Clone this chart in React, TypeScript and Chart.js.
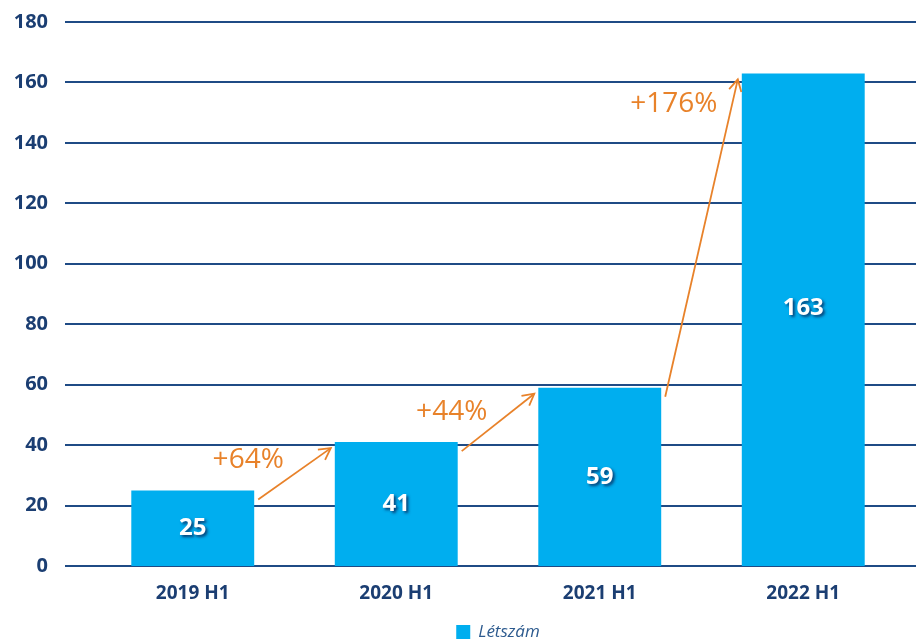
import React, { useEffect, useRef } from "react";
import { Chart, registerables } from "chart.js";

Chart.register(...registerables);

const categories = ["2019 H1", "2020 H1", "2021 H1", "2022 H1"];
const values = [25, 41, 59, 163];
const growthLabels = ["+64%", "+44%", "+176%"];
const yTicks = [0, 20, 40, 60, 80, 100, 120, 140, 160, 180];
const seriesName = "Létszám";

const NAVY = "#1B3E72";
const GRID = "#1F4B85";
const BAR = "#00AEEF";
const ORANGE = "#E8822A";

const gridPlugin = {
  id: "fullGrid",
  beforeDatasetsDraw(chart: any) {
    const y = chart.scales.y;
    const ctx = chart.ctx;
    ctx.save();
    ctx.strokeStyle = GRID;
    ctx.lineWidth = 2;
    yTicks.forEach((t) => {
      const py = Math.round(y.getPixelForValue(t));
      ctx.beginPath();
      ctx.moveTo(chart.chartArea.left - 26, py);
      ctx.lineTo(chart.width, py);
      ctx.stroke();
    });
    ctx.restore();
  },
};

const barLabelPlugin = {
  id: "barLabels",
  afterDatasetsDraw(chart: any) {
    const ctx = chart.ctx;
    const meta = chart.getDatasetMeta(0);
    ctx.save();
    ctx.font = "bold 24px 'Open Sans'";
    ctx.textAlign = "center";
    ctx.textBaseline = "middle";
    ctx.fillStyle = "#ffffff";
    ctx.shadowColor = "rgba(10,40,90,0.85)";
    ctx.shadowOffsetX = 2;
    ctx.shadowOffsetY = 2;
    ctx.shadowBlur = 3;
    meta.data.forEach((el: any, i: number) => {
      const mid = (el.y + el.base) / 2;
      const yy = i === meta.data.length - 1 ? mid - 12 : mid;
      ctx.fillText(String(values[i]), el.x, yy);
    });
    ctx.restore();
  },
};

const legendPlugin = {
  id: "customLegend",
  afterDraw(chart: any) {
    const ctx = chart.ctx;
    const ca = chart.chartArea;
    ctx.save();
    ctx.font = "italic 17px 'Open Sans'";
    const tw = ctx.measureText(seriesName).width;
    const box = 14;
    const gap = 8;
    const total = box + gap + tw;
    const cx = (ca.left + ca.right) / 2;
    const x0 = cx - total / 2;
    const cy = 632;
    ctx.fillStyle = BAR;
    ctx.fillRect(x0, cy - box / 2, box, box);
    ctx.fillStyle = "#2C5A8E";
    ctx.textAlign = "left";
    ctx.textBaseline = "middle";
    ctx.fillText(seriesName, x0 + box + gap, cy);
    ctx.restore();
  },
};

function drawArrow(ctx: any, x1: number, y1: number, x2: number, y2: number) {
  ctx.beginPath();
  ctx.moveTo(x1, y1);
  ctx.lineTo(x2, y2);
  ctx.stroke();
  const ang = Math.atan2(y2 - y1, x2 - x1);
  const len = 13;
  const spread = 0.5;
  ctx.beginPath();
  ctx.moveTo(x2 - len * Math.cos(ang - spread), y2 - len * Math.sin(ang - spread));
  ctx.lineTo(x2, y2);
  ctx.lineTo(x2 - len * Math.cos(ang + spread), y2 - len * Math.sin(ang + spread));
  ctx.stroke();
}

const arrowPlugin = {
  id: "growthArrows",
  afterDatasetsDraw(chart: any) {
    const ctx = chart.ctx;
    const meta = chart.getDatasetMeta(0);
    const y = chart.scales.y;
    ctx.save();
    ctx.strokeStyle = ORANGE;
    ctx.fillStyle = ORANGE;
    ctx.lineWidth = 1.8;
    ctx.font = "28px 'Open Sans'";
    ctx.textAlign = "center";
    ctx.textBaseline = "middle";
    for (let i = 0; i < values.length - 1; i++) {
      const a = meta.data[i];
      const b = meta.data[i + 1];
      const x1 = a.x + a.width / 2 + 4;
      const y1 = y.getPixelForValue(values[i] - 3);
      const x2 = b.x - b.width / 2 - 4;
      const y2 = y.getPixelForValue(values[i + 1] - 2);
      drawArrow(ctx, x1, y1, x2, y2);
      let tx, ty;
      if (i < values.length - 2) {
        tx = x1 - 10;
        ty = y.getPixelForValue(values[i] + 10);
      } else {
        tx = x2 - 64;
        ty = y2 + 25;
      }
      ctx.fillText(growthLabels[i], tx, ty);
    }
    ctx.restore();
  },
};

export default function App() {
  const ref = useRef<HTMLCanvasElement>(null);
  useEffect(() => {
    const chart = new Chart(ref.current as HTMLCanvasElement, {
      type: "bar",
      data: {
        labels: categories,
        datasets: [
          {
            label: seriesName,
            data: values,
            backgroundColor: BAR,
            borderWidth: 0,
            categoryPercentage: 1,
            barPercentage: 0.604,
          },
        ],
      },
      options: {
        animation: false,
        responsive: true,
        maintainAspectRatio: false,
        layout: { padding: { top: 22, right: 11, bottom: 37, left: 0 } },
        plugins: {
          tooltip: { enabled: false },
          legend: { display: false },
        },
        scales: {
          x: {
            grid: { display: false },
            border: { display: false },
            ticks: {
              color: NAVY,
              padding: 8,
              font: { family: "'Open Sans'", size: 19, weight: "bold" },
            },
            afterFit: (s: any) => {
              s.height = 40;
            },
          },
          y: {
            min: 0,
            max: 180,
            grid: { display: false, drawTicks: false },
            border: { display: false },
            ticks: {
              stepSize: 20,
              padding: 43,
              color: NAVY,
              font: { family: "'Open Sans'", size: 20, weight: "bold" },
            },
            afterFit: (s: any) => {
              s.width = 91;
              s.paddingTop = 10;
              s.paddingBottom = 10;
            },
          },
        },
      } as any,
      plugins: [gridPlugin, barLabelPlugin, arrowPlugin, legendPlugin],
    });
    return () => chart.destroy();
  }, []);
  return (
    <div style={{ position: "absolute", left: 0, top: 0, width: 916, height: 643, background: "#fff" }}>
      <canvas ref={ref} />
    </div>
  );
}
